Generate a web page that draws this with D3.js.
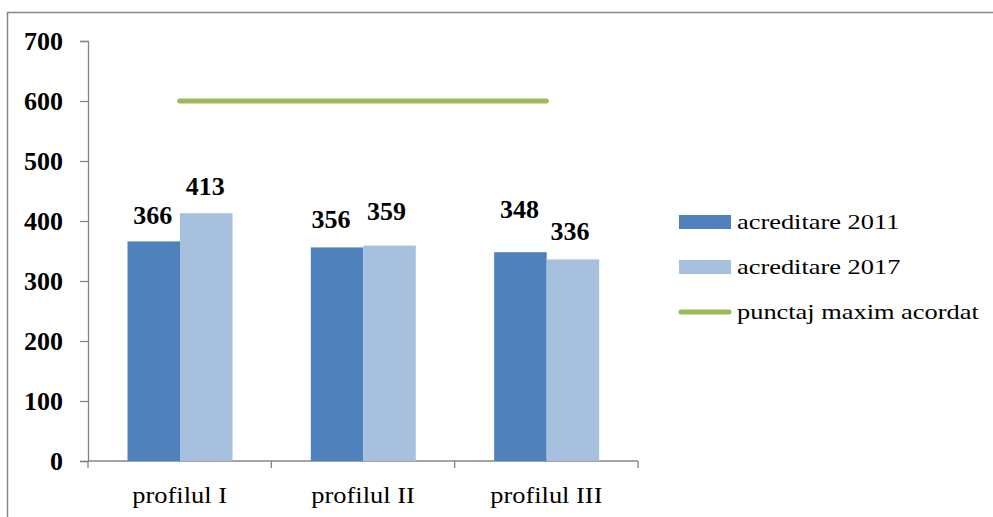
<!DOCTYPE html>
<html>
<head>
<meta charset="utf-8">
<script src="https://cdn.jsdelivr.net/npm/d3@7"></script>
<style>
  html, body { margin: 0; padding: 0; background: #fff; }
  svg { display: block; }
  text { font-family: "Liberation Serif", "Times New Roman", serif; fill: #000; }
</style>
</head>
<body>
<svg id="chart" width="993" height="517"></svg>
<script>
// ---- data ----
const categories = ["profilul I", "profilul II", "profilul III"];
const seriesNames = ["acreditare 2011", "acreditare 2017"];
const values2011 = [366, 356, 348];
const values2017 = [413, 359, 336];
const maxScore = [600, 600, 600];
const lineName = "punctaj maxim acordat";
const yTicks = [0, 100, 200, 300, 400, 500, 600, 700];

// ---- layout: manual data-label nudges (px) as placed in the original ----
const labelLift = [[17, 19, 34], [18, 26, 19]];
const labelShift = [[-1, -6, -1], [-1, -3, -3]];

const colors = ["#4F81BD", "#A7C0DE"];
const lineColor = "#9BBB59";
const axisColor = "#868686";

const svg = d3.select("#chart");

// outer border
svg.append("rect")
  .attr("x", 7.5).attr("y", 12.5)
  .attr("width", 1000).attr("height", 600)
  .attr("fill", "none").attr("stroke", axisColor).attr("stroke-width", 1.5);

const x0 = d3.scaleBand().domain(categories).range([88, 638]).paddingInner(0).paddingOuter(0);
const x1 = d3.scaleBand().domain(seriesNames).range([39.5, 144.5]).padding(0);
const y = d3.scaleLinear().domain([0, 700]).range([461, 41]);

// axes
const yAxis = svg.append("g").attr("transform", "translate(88,0)")
  .call(d3.axisLeft(y).tickValues(yTicks).tickSize(8).tickPadding(17).tickFormat(d3.format("d")));
yAxis.select(".domain").attr("stroke", axisColor).attr("stroke-width", 1.3);
yAxis.selectAll(".tick line").attr("stroke", axisColor).attr("stroke-width", 1.3);
yAxis.selectAll(".tick text")
  .attr("font-family", "Liberation Serif")
  .attr("font-size", 26).attr("font-weight", "bold").attr("fill", "#000")
  .attr("dy", "0.34em");

const xAxis = svg.append("g").attr("transform", "translate(0,461)");
xAxis.append("line").attr("x1", x0.range()[0]).attr("x2", x0.range()[1]).attr("y1", 0).attr("y2", 0)
  .attr("stroke", axisColor).attr("stroke-width", 1.3);
const bounds = categories.map(c => x0(c)).concat([x0(categories[categories.length - 1]) + x0.bandwidth()]);
xAxis.selectAll("line.tk").data(bounds).join("line").attr("class", "tk")
  .attr("x1", d => d).attr("x2", d => d).attr("y1", 0).attr("y2", 7)
  .attr("stroke", axisColor).attr("stroke-width", 1.3);

// category labels
svg.selectAll("text.cat").data(categories).join("text").attr("class", "cat")
  .attr("transform", d => `translate(${x0(d) + x0.bandwidth() / 2},503) scale(1.15,1)`)
  .attr("text-anchor", "middle").attr("font-size", 23)
  .text(d => d);

// bars
const seriesData = [values2011, values2017];
seriesData.forEach((vals, si) => {
  const g = svg.append("g");
  g.selectAll("rect").data(vals).join("rect")
    .attr("x", (d, i) => x0(categories[i]) + x1(seriesNames[si]))
    .attr("y", d => y(d))
    .attr("width", x1.bandwidth())
    .attr("height", d => y(0) - y(d))
    .attr("fill", colors[si]);
  g.selectAll("text").data(vals).join("text")
    .attr("x", (d, i) => x0(categories[i]) + x1(seriesNames[si]) + x1.bandwidth() / 2 + labelShift[si][i])
    .attr("y", (d, i) => y(d) - labelLift[si][i])
    .attr("text-anchor", "middle")
    .attr("font-size", 26).attr("font-weight", "bold")
    .text(d => d);
});

// max score line
const line = d3.line().x((d, i) => x0(categories[i]) + x0.bandwidth() / 2).y(d => y(d));
svg.append("path").datum(maxScore)
  .attr("d", line)
  .attr("fill", "none").attr("stroke", lineColor).attr("stroke-width", 5)
  .attr("stroke-linecap", "round");

// legend
const legend = svg.append("g");
const legendItems = [
  { name: seriesNames[0], type: "rect", color: colors[0] },
  { name: seriesNames[1], type: "rect", color: colors[1] },
  { name: lineName, type: "line", color: lineColor }
];
legendItems.forEach((it, i) => {
  const baseY = 229 + i * 45;
  if (it.type === "rect") {
    legend.append("rect").attr("x", 679).attr("y", baseY - 14).attr("width", 52).attr("height", 14)
      .attr("fill", it.color);
  } else {
    legend.append("line").attr("x1", 681).attr("x2", 729).attr("y1", baseY - 7).attr("y2", baseY - 7)
      .attr("stroke", it.color).attr("stroke-width", 5).attr("stroke-linecap", "round");
  }
  legend.append("text")
    .attr("transform", `translate(737,${baseY}) scale(1.2,1)`)
    .attr("font-size", 22)
    .text(it.name);
});
</script>
</body>
</html>
